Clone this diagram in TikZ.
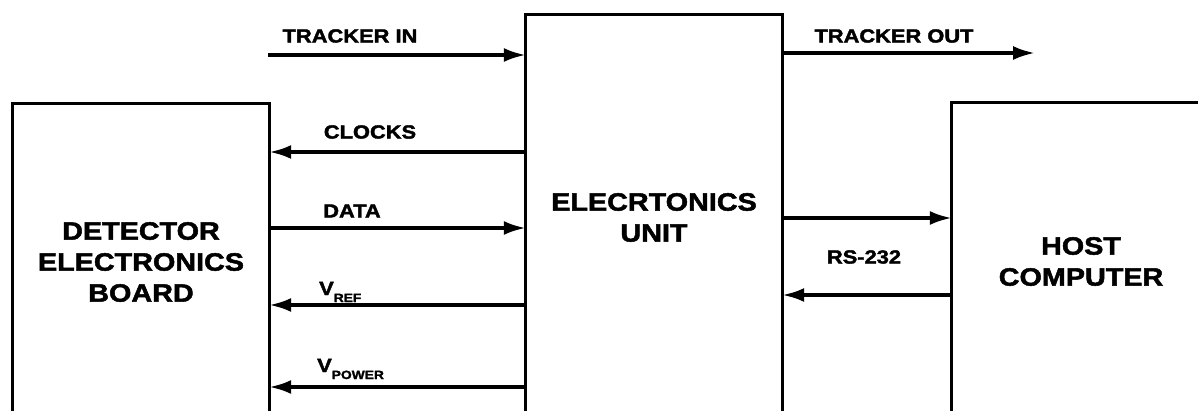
\documentclass[tikz,border=0pt]{standalone}
\usepackage{fontspec}
\newfontfamily\lab[FakeStretch=1.15,FakeBold=2]{Liberation Sans}
\usetikzlibrary{arrows.meta}
\begin{document}
\begin{tikzpicture}[x=1pt,y=-1pt,
  blk/.style={draw=none,inner sep=0pt,font=\lab\bfseries\fontsize{25}{31}\selectfont,align=center},
  lbl/.style={inner sep=0pt,font=\lab\bfseries\fontsize{19}{19}\selectfont},
  sig/.style={line width=3.5pt,-{Latex[length=22pt,width=14pt]}},
  boxline/.style={line width=3pt}]
\useasboundingbox (0,0) rectangle (1198,411);
\clip (0,0) rectangle (1198,411);
% blocks
\node[blk,minimum width=256pt,minimum height=316pt] (deb) at (141,262) {DETECTOR\\ELECTRONICS\\BOARD};
\node[blk,minimum width=256pt,minimum height=405pt] (eu) at (654,217.5) {ELECRTONICS\\UNIT};
\node[blk,minimum width=258pt,minimum height=317pt] (hc) at (1081,261.5) {HOST\\COMPUTER};
\draw[boxline] (deb.south west) -- (deb.north west) -- (deb.north east) -- (deb.south east);
\draw[boxline] (eu.south west) -- (eu.north west) -- (eu.north east) -- (eu.south east);
\draw[boxline] (hc.south west) -- (hc.north west) -- (hc.north east) -- (hc.south east);
% free ends
\coordinate (tin) at (268,55);
\coordinate (tout) at (1035,53);
% connectors
\draw[sig] (tin) -- (eu.west |- tin);
\draw[sig] (eu.east |- tout) -- (tout);
\draw[sig] (eu.west |- 0,152) -- (deb.east |- 0,152);
\draw[sig] (deb.east |- 0,228) -- (eu.west |- 0,228);
\draw[sig] (eu.west |- 0,305) -- (deb.east |- 0,305);
\draw[sig] (eu.west |- 0,387) -- (deb.east |- 0,387);
\draw[sig] (eu.east |- 0,218) -- (hc.west |- 0,218);
\draw[sig] (hc.west |- 0,295) -- (eu.east |- 0,295);
% labels
\node[lbl] (ltin) at (350,36) {TRACKER IN};
\node[lbl] (ltout) at (894,36) {TRACKER OUT};
\node[lbl] (lclk) at (370,132) {CLOCKS};
\node[lbl] (ldata) at (352,211) {DATA};
\node[lbl,anchor=base west] (lvref) at (319,295) {V\raisebox{-7pt}{\fontsize{12}{12}\selectfont REF}};
\node[lbl,anchor=base west] (lvpow) at (317,372) {V\raisebox{-7pt}{\fontsize{12}{12}\selectfont POWER}};
\node[lbl] (lrs) at (864,257) {RS-232};
\end{tikzpicture}
\end{document}
